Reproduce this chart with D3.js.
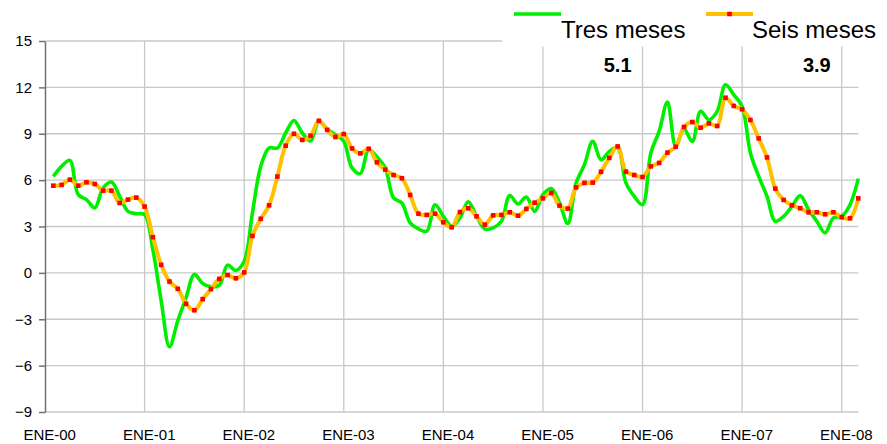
<!DOCTYPE html>
<html>
<head>
<meta charset="utf-8">
<script src="https://cdn.jsdelivr.net/npm/d3@7"></script>
<style>
  body { margin: 0; background: #fff; }
  svg { display: block; font-family: "Liberation Sans", Arial, sans-serif; }
  .grid line { stroke: #c8c8c8; stroke-width: 1.3; }
  .yAxis path, .yAxis line { stroke: #707070; stroke-width: 1.5; }
  .yAxis text, .xAxis text { font-size: 15px; fill: #000; }
</style>
</head>
<body>
<div id="chart"></div>
<script>

// monthly series, from FEB-00 to MAR-08
var tresMeses = [
    6.24, 6.89, 7.28, 5.06, 4.74, 4.2, 5.49, 5.88, 4.95, 3.98, 3.83, 3.77,
    1.5, -1.8, -4.78, -3.1, -1.6, -0.1, -0.69, -0.9, -0.8, 0.5, 0.15, 0.75,
    3.9, 6.89, 8.08, 8.08, 9.05, 9.86, 9.05, 8.53, 9.8, 9.3, 8.94, 8.51,
    6.79, 6.42, 7.97, 7.5, 6.79, 4.85, 4.52, 3.23, 2.84, 2.69, 4.41, 3.66,
    3.01, 3.56, 4.6, 3.66, 2.84, 2.91, 3.34, 5.0, 4.46, 4.91, 3.98, 5.06,
    5.45, 4.52, 3.19, 5.82, 7.0, 8.51, 7.32, 7.86, 8.1, 5.82, 4.95, 4.41,
    7.76, 9.15, 11.05, 8.2, 9.3, 8.5, 10.45, 9.91, 10.45, 12.17, 11.52, 10.77,
    7.76, 6.24, 4.95, 3.34, 3.66, 4.3, 5.0, 4.09, 3.34, 2.59, 3.56, 3.66,
    4.41, 6.1
];

var seisMeses = [
    5.64, 5.69, 6.03, 5.64, 5.86, 5.75, 5.32, 5.32, 4.52, 4.74, 4.87, 4.29,
    2.31, 0.52, -0.56, -1.03, -2.0, -2.42, -1.7, -1.05, -0.39, -0.14, -0.35, 0.03,
    2.39, 3.5, 4.37, 6.23, 8.23, 9.0, 8.6, 8.87, 9.84, 9.25, 8.79, 8.98,
    8.05, 7.73, 8.03, 7.15, 6.68, 6.33, 6.12, 5.04, 3.83, 3.75, 3.83, 3.27,
    2.95, 3.93, 4.18, 3.66, 3.12, 3.72, 3.75, 3.92, 3.7, 4.14, 4.54, 4.82,
    5.17, 4.35, 4.16, 5.53, 5.82, 5.84, 6.54, 7.44, 8.18, 6.55, 6.33, 6.2,
    6.89, 7.11, 7.78, 8.16, 9.44, 9.76, 9.39, 9.67, 9.5, 11.33, 10.8, 10.58,
    9.89, 8.7, 7.47, 5.45, 4.72, 4.37, 4.18, 3.92, 3.92, 3.79, 3.92, 3.6,
    3.53, 4.82
];

var yearLabels = ["ENE-00", "ENE-01", "ENE-02", "ENE-03", "ENE-04", "ENE-05", "ENE-06", "ENE-07", "ENE-08"];
var yTicks = [-9, -6, -3, 0, 3, 6, 9, 12, 15];
var seriesNames = ["Tres meses", "Seis meses"];
var notes = ["5.1", "3.9"];

// svg container
var svgWidth = 887;
var svgHeight = 444;

var svg = d3.select("#chart").append("svg")
    .attr("width", svgWidth)
    .attr("height", svgHeight);

// months counted from ENE-00, first value is FEB-00
var firstMonth = 1;
var lastMonth = firstMonth + seisMeses.length - 1;

var xScale = d3.scaleLinear()
    .domain([0, lastMonth])
    .range([45, 858.3]);

var yScale = d3.scaleLinear()
    .domain([-9, 15])
    .range([412, 41]);

// grid
var grid = svg.append("g").attr("class", "grid");

grid.selectAll(".hline")
    .data(yTicks)
    .enter()
    .append("line")
    .attr("x1", xScale(0))
    .attr("x2", xScale(lastMonth))
    .attr("y1", d => yScale(d))
    .attr("y2", d => yScale(d));

grid.selectAll(".vline")
    .data(yearLabels.slice(1))
    .enter()
    .append("line")
    .attr("x1", (d, i) => xScale((i + 1) * 12))
    .attr("x2", (d, i) => xScale((i + 1) * 12))
    .attr("y1", yScale(15))
    .attr("y2", yScale(-9));

// y axis
svg.append("g")
    .attr("class", "yAxis")
    .attr("transform", `translate(${xScale(0)}, 0)`)
    .call(d3.axisLeft(yScale).tickValues(yTicks).tickSize(6).tickSizeOuter(0).tickPadding(7));

// x axis labels, centred in the january slot
var xAxis = d3.axisBottom(xScale)
    .tickValues(yearLabels.map((d, i) => i * 12 + 0.5))
    .tickFormat((d, i) => yearLabels[i])
    .tickSize(0)
    .tickPadding(17);

svg.append("g")
    .attr("class", "xAxis")
    .attr("transform", `translate(0, ${yScale(-9)})`)
    .call(xAxis)
    .call(g => g.select(".domain").remove());

// lines
var tresData = tresMeses.map((v, i) => ({ m: firstMonth + i, v: v }));
var seisData = seisMeses.map((v, i) => ({ m: firstMonth + i, v: v }));

var line = d3.line()
    .x(d => xScale(d.m))
    .y(d => yScale(d.v))
    .curve(d3.curveCatmullRom.alpha(0.5));

svg.append("path")
    .datum(tresData)
    .attr("fill", "none")
    .attr("stroke", "#00ee00")
    .attr("stroke-width", 3.6)
    .attr("stroke-linejoin", "round")
    .attr("d", line);

svg.append("path")
    .datum(seisData)
    .attr("fill", "none")
    .attr("stroke", "#ffc000")
    .attr("stroke-width", 4)
    .attr("stroke-linejoin", "round")
    .attr("d", line);

svg.selectAll(".marker")
    .data(seisData)
    .enter()
    .append("rect")
    .attr("class", "marker")
    .attr("x", d => xScale(d.m) - 2.3)
    .attr("y", d => yScale(d.v) - 2.3)
    .attr("width", 4.6)
    .attr("height", 4.6)
    .attr("fill", "#ff0000");

// notes above the plot
svg.selectAll(".note")
    .data(notes)
    .enter()
    .append("text")
    .attr("class", "note")
    .attr("x", (d, i) => xScale([69, 93][i]))
    .attr("y", 72)
    .attr("text-anchor", "middle")
    .style("font-size", "20px")
    .style("font-weight", "bold")
    .text(d => d);

// legend, white box over the top of the plot
var legend = svg.append("g");

legend.append("rect")
    .attr("x", 502)
    .attr("y", 0)
    .attr("width", svgWidth - 502)
    .attr("height", 46.5)
    .attr("fill", "#fff");

var legendItems = legend.selectAll(".item")
    .data(seriesNames)
    .enter()
    .append("g")
    .attr("transform", (d, i) => `translate(${[514, 706][i]}, 0)`);

legendItems.append("line")
    .attr("x1", 0)
    .attr("x2", 47)
    .attr("y1", 14)
    .attr("y2", 14)
    .attr("stroke", (d, i) => i === 0 ? "#00ee00" : "#ffc000")
    .attr("stroke-width", (d, i) => i === 0 ? 3.6 : 4);

legendItems.filter((d, i) => i === 1)
    .append("rect")
    .attr("x", 21.2)
    .attr("y", 11.7)
    .attr("width", 4.6)
    .attr("height", 4.6)
    .attr("fill", "#ff0000");

legendItems.append("text")
    .attr("x", (d, i) => i === 0 ? 47 : 46)
    .attr("y", 37.5)
    .style("font-size", "24px")
    .text(d => d);

</script>
</body>
</html>
